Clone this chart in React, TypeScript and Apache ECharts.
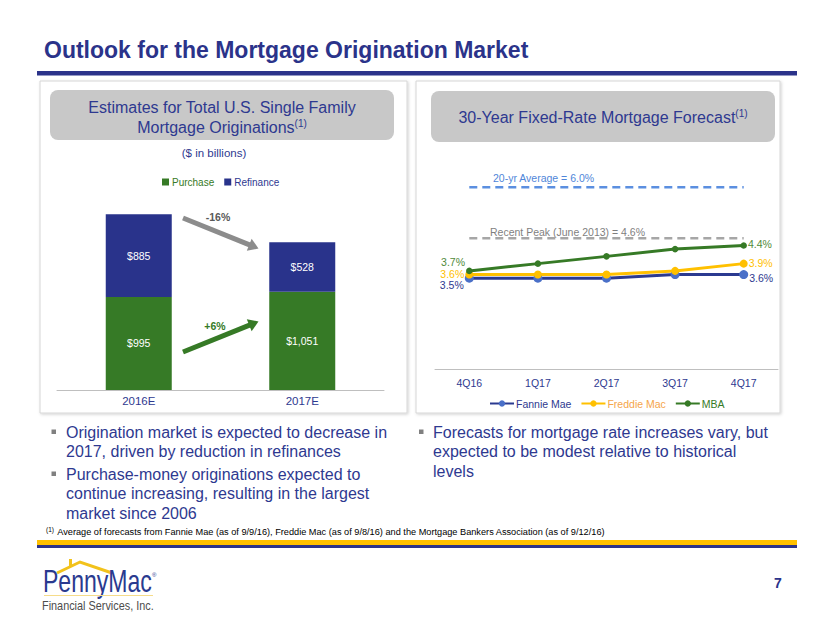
import React, { useEffect, useRef } from 'react';
import * as echarts from 'echarts';

// ---- Data ----
const years = ['2016E', '2017E'];
const purchase = [995, 1051];
const refinance = [885, 528];
const totals = [1880, 1579];
const totalChange = '-16%';
const purchaseChange = '+6%';

const quarters = ['4Q16', '1Q17', '2Q17', '3Q17', '4Q17'];
const fannieMae = [3.5, 3.5, 3.5, 3.6, 3.6];
const freddieMac = [3.6, 3.6, 3.6, 3.7, 3.9];
const mba = [3.7, 3.9, 4.1, 4.3, 4.4];
const avg20yr = [6.0, 6.0, 6.0, 6.0, 6.0];
const recentPeak = [4.6, 4.6, 4.6, 4.6, 4.6];

const leftBullets = [
  ['Origination market is expected to decrease in', '2017, driven by reduction in refinances'],
  ['Purchase-money originations expected to', 'continue increasing, resulting in the largest', 'market since 2006'],
];
const rightBullets = [
  ['Forecasts for mortgage rate increases vary, but', 'expected to be modest relative to historical', 'levels'],
];

// ---- Styles ----
const NAVY = '#2b338a';
const TEXT_NAVY = '#2e3990';
const GREEN = '#367a26';
const BAR_NAVY = '#29338b';
const YELLOW = '#ffc000';
const FONT = '"Liberation Sans", Arial, sans-serif';

const money = (v: number) => '$' + v.toLocaleString('en-US');
const pct = (v: number) => v.toFixed(1) + '%';

function endLabels(vals: number[], color: string, first: number[], last: number[]) {
  const base = { show: true, color, fontSize: 10.5, fontFamily: FONT, formatter: (p: any) => pct(p.value) };
  return vals.map((v, i) => {
    if (i === 0) return { value: v, label: { ...base, position: 'left', distance: 1, offset: first } };
    if (i === vals.length - 1) return { value: v, label: { ...base, position: 'right', distance: 1, offset: last } };
    return v;
  });
}

function arrow(x1: number, y1: number, x2: number, y2: number, color: string, w: number) {
  const dx = x2 - x1, dy = y2 - y1;
  const len = Math.sqrt(dx * dx + dy * dy);
  const ux = dx / len, uy = dy / len;
  const nx = -uy, ny = ux;
  const hl = 10, hw = 6.5;
  const bx = x2 - hl * ux, by = y2 - hl * uy;
  return [
    { type: 'line', z: 100, shape: { x1, y1, x2: bx + ux, y2: by + uy }, style: { stroke: color, lineWidth: w } },
    { type: 'polygon', z: 100, shape: { points: [[x2, y2], [bx + hw * nx, by + hw * ny], [bx - hw * nx, by - hw * ny]] }, style: { fill: color } },
  ];
}

export default function App() {
  const ref = useRef<HTMLDivElement>(null);

  useEffect(() => {
    if (!ref.current) return;
    const chart = echarts.init(ref.current, undefined, { renderer: 'svg' });

    const graphics: any[] = [];
    // Title and rule
    graphics.push({ type: 'text', x: 44, y: 50, style: { text: 'Outlook for the Mortgage Origination Market', fill: NAVY, font: `bold 23px ${FONT}`, verticalAlign: 'middle' } });
    graphics.push({ type: 'rect', shape: { x: 37, y: 71, width: 760, height: 4.5 }, style: { fill: NAVY } });
    // Panels
    graphics.push({ type: 'rect', z: -10, shape: { x: 40, y: 81, width: 367, height: 332 }, style: { fill: '#fff', stroke: '#d6d6d6', lineWidth: 1, shadowBlur: 3, shadowColor: 'rgba(0,0,0,0.18)', shadowOffsetX: 1, shadowOffsetY: 1 } });
    graphics.push({ type: 'rect', z: -10, shape: { x: 416, y: 81, width: 364, height: 332 }, style: { fill: '#fff', stroke: '#d6d6d6', lineWidth: 1, shadowBlur: 3, shadowColor: 'rgba(0,0,0,0.18)', shadowOffsetX: 1, shadowOffsetY: 1 } });
    // Header boxes
    graphics.push({ type: 'rect', shape: { x: 50, y: 90, width: 344, height: 50, r: 8 }, style: { fill: '#c8c8c8' } });
    graphics.push({ type: 'rect', shape: { x: 431, y: 91, width: 344, height: 51, r: 8 }, style: { fill: '#c8c8c8' } });
    graphics.push({ type: 'text', x: 222, y: 107, style: { text: 'Estimates for Total U.S. Single Family', fill: TEXT_NAVY, font: `16px ${FONT}`, align: 'center', verticalAlign: 'middle' } });
    graphics.push({ type: 'text', x: 222, y: 127, style: { text: '{a|Mortgage Originations}{s|(1)}', align: 'center', verticalAlign: 'middle', rich: { a: { fontSize: 16, fontFamily: FONT, fill: TEXT_NAVY, color: TEXT_NAVY }, s: { fontSize: 10, fontFamily: FONT, color: TEXT_NAVY, fill: TEXT_NAVY, verticalAlign: 'top', padding: [0, 0, 7, 0] } } } });
    graphics.push({ type: 'text', x: 603, y: 117, style: { text: '{a|30-Year Fixed-Rate Mortgage Forecast}{s|(1)}', align: 'center', verticalAlign: 'middle', rich: { a: { fontSize: 16, fontFamily: FONT, fill: TEXT_NAVY, color: TEXT_NAVY }, s: { fontSize: 10, fontFamily: FONT, color: TEXT_NAVY, fill: TEXT_NAVY, verticalAlign: 'top', padding: [0, 0, 7, 0] } } } });
    graphics.push({ type: 'text', x: 214, y: 153, style: { text: '($ in billions)', fill: TEXT_NAVY, font: `11.5px ${FONT}`, align: 'center', verticalAlign: 'middle' } });
    // Arrows
    graphics.push(...arrow(183, 218, 258.5, 248.5, '#8c8c8c', 5));
    graphics.push(...arrow(183, 352, 258.5, 321.5, GREEN, 5));
    graphics.push({ type: 'text', z: 100, x: 218, y: 217, style: { text: totalChange, fill: '#595959', font: `bold 10.5px ${FONT}`, align: 'center', verticalAlign: 'middle' } });
    graphics.push({ type: 'text', z: 100, x: 215, y: 326, style: { text: purchaseChange, fill: GREEN, font: `bold 10.5px ${FONT}`, align: 'center', verticalAlign: 'middle' } });
    // Reference line labels
    graphics.push({ type: 'text', x: 493, y: 178, style: { text: '20-yr Average = 6.0%', fill: '#4f86d9', font: `10.5px ${FONT}`, verticalAlign: 'middle' } });
    graphics.push({ type: 'text', x: 490, y: 232, style: { text: 'Recent Peak (June 2013) = 4.6%', fill: '#7f7f7f', font: `10.5px ${FONT}`, verticalAlign: 'middle' } });
    // Bullets
    const addBullets = (paras: string[][], bx: number, tx: number, ys: number[][]) => {
      paras.forEach((lines, pi) => {
        graphics.push({ type: 'rect', shape: { x: bx, y: ys[pi][0] - 2.5, width: 4.5, height: 4.5 }, style: { fill: '#808080' } });
        lines.forEach((ln, li) => {
          graphics.push({ type: 'text', x: tx, y: ys[pi][li], style: { text: ln, fill: TEXT_NAVY, font: `16px ${FONT}`, verticalAlign: 'middle' } });
        });
      });
    };
    addBullets(leftBullets, 51.5, 66, [[432, 451.5], [474, 493.5, 513]]);
    addBullets(rightBullets, 419, 433, [[432, 451.5, 471]]);
    // Footnote
    graphics.push({ type: 'text', x: 46, y: 532, style: { text: '{s|(1)} {t|Average of forecasts from Fannie Mae (as of 9/9/16), Freddie Mac (as of 9/8/16) and the Mortgage Bankers Association (as of 9/12/16)}', verticalAlign: 'middle', rich: { s: { fontSize: 6.5, fontFamily: FONT, color: TEXT_NAVY, verticalAlign: 'top' }, t: { fontSize: 9.2, fontFamily: FONT, color: TEXT_NAVY } } } });
    // Footer bars
    graphics.push({ type: 'rect', shape: { x: 37, y: 540, width: 760, height: 5 }, style: { fill: YELLOW } });
    graphics.push({ type: 'rect', shape: { x: 37, y: 545, width: 760, height: 3 }, style: { fill: NAVY } });
    // Logo
    graphics.push({ type: 'polyline', shape: { points: [[57, 573], [80, 562], [112, 573]] }, style: { stroke: '#f2c21b', lineWidth: 3, fill: null } });
    graphics.push({ type: 'line', shape: { x1: 70.5, y1: 559, x2: 70.5, y2: 567 }, style: { stroke: '#f2c21b', lineWidth: 3 } });
    graphics.push({ type: 'text', x: 43, y: 581, scaleX: 0.72, style: { text: 'PennyMac', fill: '#2a3a8f', font: `32px ${FONT}`, verticalAlign: 'middle' } });
    graphics.push({ type: 'text', x: 152, y: 575, style: { text: '®', fill: '#2a3a8f', font: `6px ${FONT}`, verticalAlign: 'middle' } });
    graphics.push({ type: 'line', shape: { x1: 44, y1: 595.5, x2: 153, y2: 595.5 }, style: { stroke: '#f6dc8a', lineWidth: 1 } });
    graphics.push({ type: 'text', x: 42, y: 605, scaleX: 0.87, style: { text: 'Financial Services, Inc.', fill: '#4d4d4d', font: `12.5px ${FONT}`, verticalAlign: 'middle' } });
    graphics.push({ type: 'text', x: 778, y: 583, style: { text: '7', fill: NAVY, font: `bold 14px ${FONT}`, align: 'center', verticalAlign: 'middle' } });

    const option: any = {
      animation: false,
      backgroundColor: '#ffffff',
      textStyle: { fontFamily: FONT },
      legend: [
        {
          data: [{ name: 'Purchase', textStyle: { color: GREEN } }, { name: 'Refinance', textStyle: { color: TEXT_NAVY } }],
          left: 162, top: 177, icon: 'rect', itemWidth: 7, itemHeight: 7, itemGap: 10, padding: 0,
          textStyle: { fontSize: 10, fontFamily: FONT, padding: [0, 0, 0, -2] },
        },
        {
          data: [
            { name: 'Fannie Mae', textStyle: { color: TEXT_NAVY } },
            { name: 'Freddie Mac', textStyle: { color: '#f5a54a' } },
            { name: 'MBA', textStyle: { color: GREEN } },
          ],
          left: 489, top: 398, itemWidth: 24, itemHeight: 8, itemGap: 9, padding: 0,
          textStyle: { fontSize: 10.5, fontFamily: FONT, padding: [0, 0, 0, -3] },
        },
      ],
      grid: [
        { left: 57, top: 203, width: 327, height: 187 },
        { left: 435, top: 151, width: 343, height: 218 },
      ],
      xAxis: [
        {
          gridIndex: 0, type: 'category', data: years,
          axisLine: { lineStyle: { color: '#bfbfbf' } },
          axisTick: { lineStyle: { color: '#bfbfbf' } },
          axisLabel: { color: TEXT_NAVY, fontSize: 11.5, margin: 5, fontFamily: FONT },
        },
        {
          gridIndex: 1, type: 'category', data: quarters, boundaryGap: true,
          axisLine: { lineStyle: { color: '#bfbfbf' } },
          axisTick: { alignWithLabel: true, lineStyle: { color: '#bfbfbf' } },
          axisLabel: { color: TEXT_NAVY, fontSize: 10.5, margin: 8, fontFamily: FONT },
        },
      ],
      yAxis: [
        { gridIndex: 0, type: 'value', min: 0, max: 2000, show: false },
        { gridIndex: 1, type: 'value', min: 1, max: 7, show: false },
      ],
      series: [
        {
          name: 'Purchase', type: 'bar', stack: 'orig', xAxisIndex: 0, yAxisIndex: 0, data: purchase, barWidth: 66,
          itemStyle: { color: GREEN },
          label: { show: true, position: 'inside', color: '#fff', fontSize: 10.5, fontFamily: FONT, formatter: (p: any) => money(p.value) },
        },
        {
          name: 'Refinance', type: 'bar', stack: 'orig', xAxisIndex: 0, yAxisIndex: 0, data: refinance, barWidth: 66,
          itemStyle: { color: BAR_NAVY },
          label: { show: true, position: 'inside', color: '#fff', fontSize: 10.5, fontFamily: FONT, formatter: (p: any) => money(p.value) },
        },
        {
          name: 'Total', type: 'scatter', xAxisIndex: 0, yAxisIndex: 0, data: totals, symbolSize: 1, silent: true,
          itemStyle: { opacity: 0 },
          label: { show: true, position: 'top', distance: 2, color: '#8c8c8c', fontSize: 11.5, fontFamily: FONT, formatter: (p: any) => money(p.value) },
        },
        {
          name: '20-yr Average', type: 'line', xAxisIndex: 1, yAxisIndex: 1, data: avg20yr, symbol: 'none', silent: true,
          lineStyle: { color: '#5b8fe0', width: 2.5, type: [8, 5] },
        },
        {
          name: 'Recent Peak', type: 'line', xAxisIndex: 1, yAxisIndex: 1, data: recentPeak, symbol: 'none', silent: true,
          lineStyle: { color: '#a6a6a6', width: 2.5, type: [8, 5] },
        },
        {
          name: 'Fannie Mae', type: 'line', xAxisIndex: 1, yAxisIndex: 1,
          data: endLabels(fannieMae, TEXT_NAVY, [0, 7], [0, 3]),
          symbol: 'circle', symbolSize: 9, showAllSymbol: true,
          lineStyle: { color: '#2b3a90', width: 3 },
          itemStyle: { color: '#4a70c8' },
        },
        {
          name: 'Freddie Mac', type: 'line', xAxisIndex: 1, yAxisIndex: 1,
          data: endLabels(freddieMac, YELLOW, [0, -1], [0, -1]),
          symbol: 'circle', symbolSize: 8, showAllSymbol: true,
          lineStyle: { color: YELLOW, width: 3 },
          itemStyle: { color: YELLOW },
        },
        {
          name: 'MBA', type: 'line', xAxisIndex: 1, yAxisIndex: 1,
          data: endLabels(mba, '#4f8a3a', [0, -9], [0, -1]),
          symbol: 'circle', symbolSize: 6.5, showAllSymbol: true,
          lineStyle: { color: GREEN, width: 3 },
          itemStyle: { color: GREEN },
        },
      ],
      graphic: { elements: graphics },
    };

    chart.setOption(option);
    return () => chart.dispose();
  }, []);

  return (
    <div
      ref={ref}
      style={{ position: 'absolute', left: 0, top: 0, width: 830, height: 623, background: '#fff' }}
    />
  );
}
